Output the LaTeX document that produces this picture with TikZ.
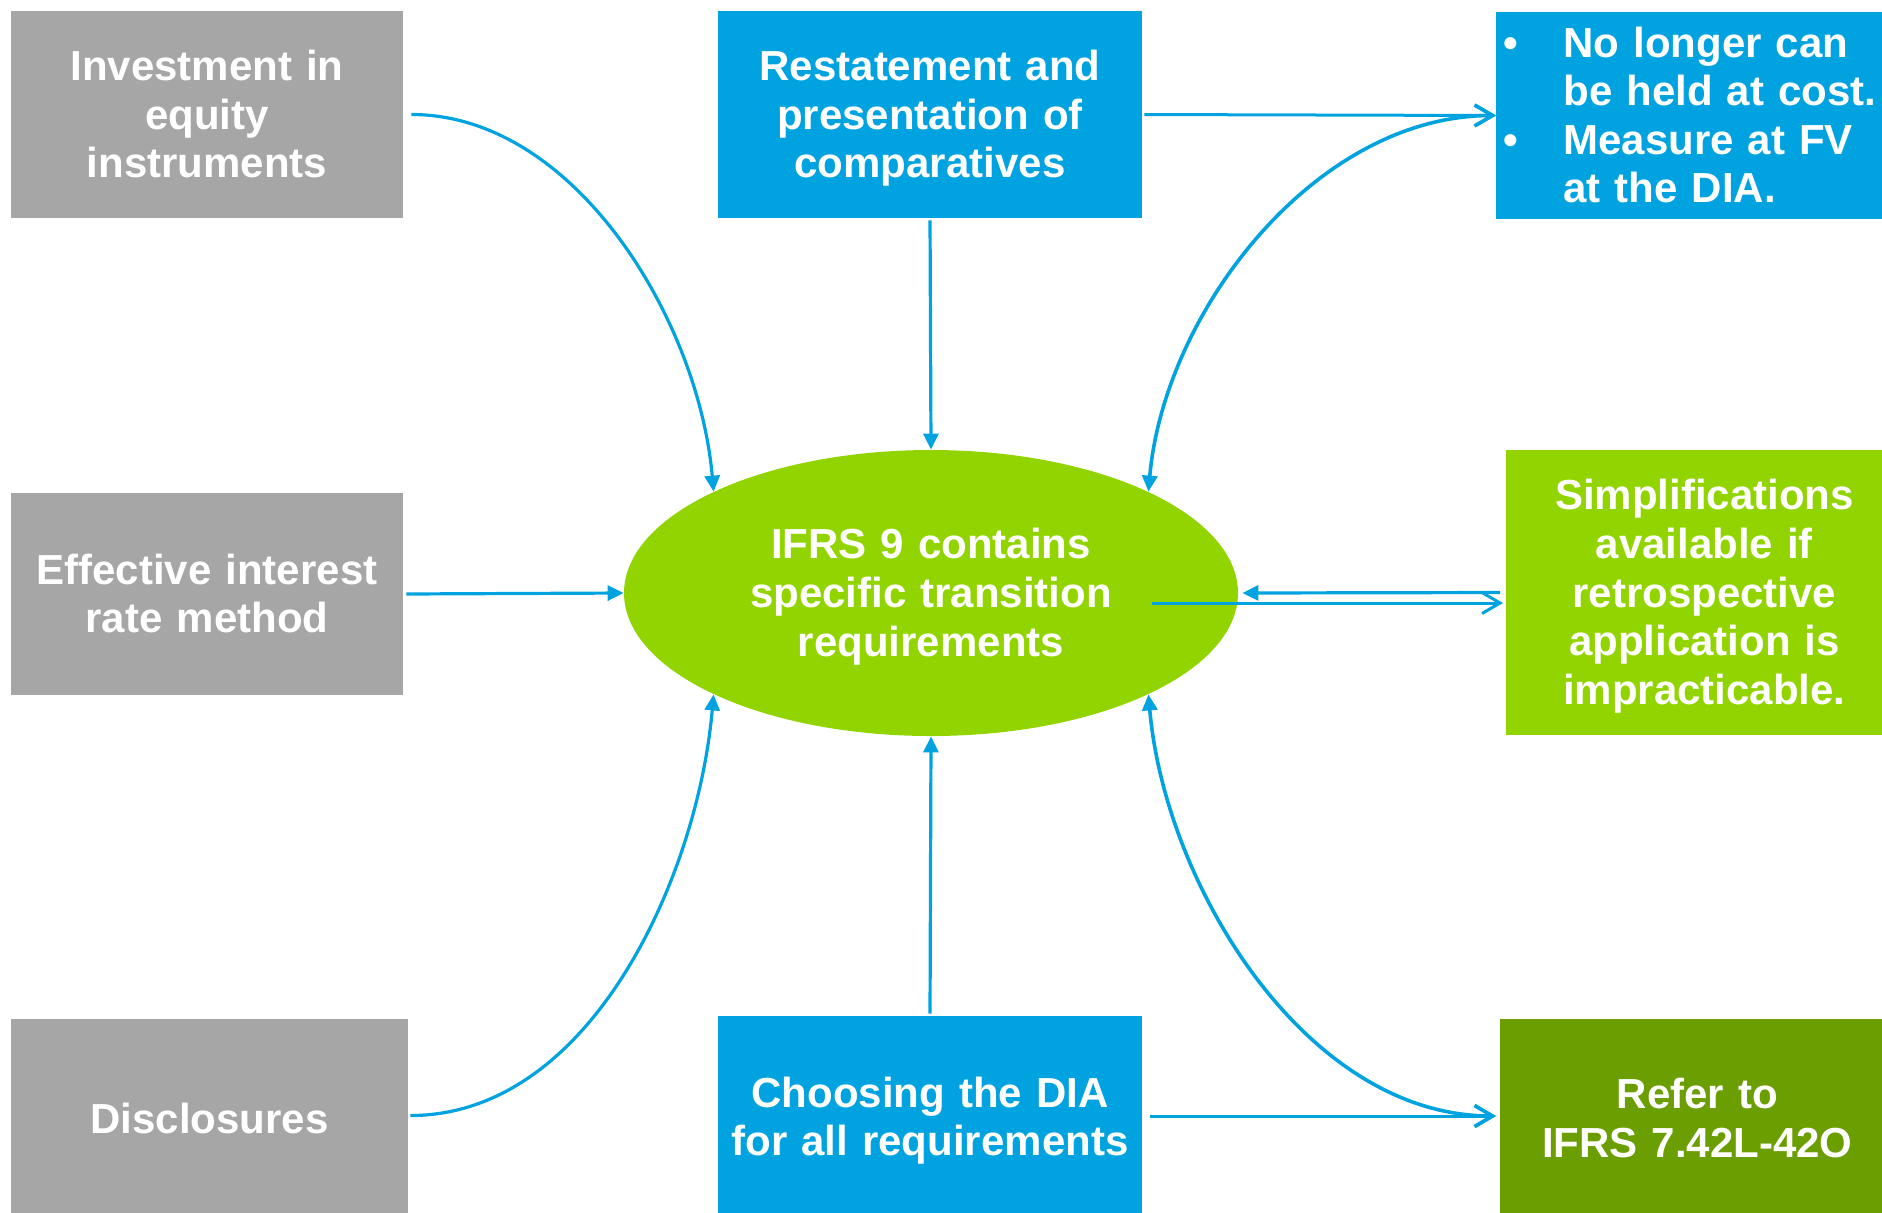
\documentclass[tikz,border=0pt]{standalone}
\usepackage{fontspec}
\setmainfont{Liberation Sans}
\usetikzlibrary{shapes.geometric,arrows.meta}

\definecolor{ifrsblue}{HTML}{00A3E0}
\definecolor{ifrsgray}{HTML}{A6A6A6}
\definecolor{ifrsgreen}{HTML}{92D400}
\definecolor{ifrsdark}{HTML}{6B9E00}

\begin{document}
\begin{tikzpicture}[
    x=0.5pt, y=-0.5pt,
    box/.style={rectangle, inner sep=0pt, align=center, text=white, font=\bfseries\fontsize{21}{24.3}\selectfont,
        execute at begin node={\rule{0pt}{19pt}}, execute at end node={\rule[-4.5pt]{0pt}{0pt}}},
    arrow/.style={-{Triangle[length=8pt,width=7.5pt]}, ifrsblue, line width=1.6pt},
    openarrow/.style={-{Straight Barb[length=9pt,width=10.5pt]}, ifrsblue, line width=1.5pt},
    bothways/.style={{Triangle[length=8pt,width=7.5pt]}-{Straight Barb[length=9pt,width=10.5pt]}, ifrsblue, line width=1.8pt}
]
\useasboundingbox (0,0) rectangle (1882,1212);

% left column
\node[box, fill=ifrsgray, text width=196pt, minimum height=103.5pt] (equity) at (207,114.5) {Investment in\\equity\\instruments};
\node[box, fill=ifrsgray, text width=196pt, minimum height=101pt] (eir) at (207,594) {Effective interest\\rate method};
\node[box, fill=ifrsgray, text width=198.5pt, minimum height=99.5pt] (disclosures) at (209.5,1118.5) {Disclosures};

% middle column
\node[box, fill=ifrsblue, text width=212pt, minimum height=103.5pt] (restate) at (930,114.5) {Restatement and\\presentation of\\comparatives};
\node[box, ellipse, fill=ifrsgreen, text width=200pt, minimum width=307pt, minimum height=143pt] (ifrs) at (931,593) {IFRS 9 contains\\specific transition\\requirements};
\node[box, fill=ifrsblue, text width=212pt, minimum height=101pt] (dia) at (930,1117) {Choosing the DIA\\for all requirements};

% right column (boxes run past the right edge)
\node[box, anchor=west, fill=ifrsblue, minimum height=103.5pt, inner xsep=3.5pt, text width=200pt, align=left] (cost) at (1496,115.5)
  {\makebox[30pt][l]{\textbullet}No longer can\\\hspace*{30pt}be held at cost.\\\makebox[30pt][l]{\textbullet}Measure at FV\\\hspace*{30pt}at the DIA.};
\node[box, anchor=west, fill=ifrsgreen, text width=198pt, minimum height=142.5pt] (simp) at (1506,592.5) {Simplifications\\available if\\retrospective\\application is\\impracticable.};
\node[box, anchor=west, fill=ifrsdark, text width=197pt, minimum height=99.5pt] (refer) at (1500,1118.5) {Refer to\\IFRS 7.42L-42O};

% connectors
\draw[arrow, shorten <=4pt] (equity.east) to[out=0, in=95, looseness=0.9] (ifrs.155);
\draw[arrow, shorten <=1pt] (restate.south) -- (ifrs.north);
\draw[openarrow, shorten <=1pt] (restate.east) -- (cost.west);
\draw[bothways] (ifrs.25) to[out=85, in=180, looseness=0.9] (cost.west);

\draw[arrow, shorten <=1.5pt] (eir.east) -- (ifrs.west);
\draw[arrow, shorten >=2pt] ([xshift=-3pt]simp.west) -- (ifrs.east);
\coordinate (simpin) at (1152,603);
\draw[openarrow, shorten >=1.5pt] (simpin) -- (simpin -| simp.west);

\draw[arrow, shorten <=1pt] ([yshift=1.5pt]disclosures.east) to[out=0, in=265, looseness=0.9] (ifrs.205);
\draw[arrow, shorten <=1pt] (dia.north) -- (ifrs.south);
\coordinate (lowrow) at (1150,1116);
\draw[openarrow, shorten >=2pt] (lowrow) -- (lowrow -| refer.west);
\draw[bothways, shorten >=2pt] (ifrs.335) to[out=275, in=180, looseness=0.9] (lowrow -| refer.west);
\end{tikzpicture}
\end{document}
